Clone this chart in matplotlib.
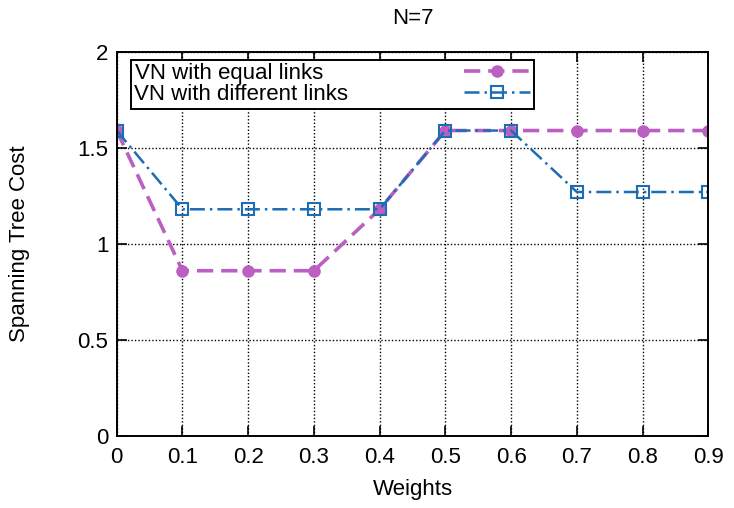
import numpy as np
import matplotlib.pyplot as plt

plt.rcParams['font.family'] = ['Liberation Sans', 'DejaVu Sans']

# Data
weights = [0, 0.1, 0.2, 0.3, 0.4, 0.5, 0.6, 0.7, 0.8, 0.9]
equal_links = [1.59, 0.86, 0.86, 0.86, 1.18, 1.59, 1.59, 1.59, 1.59, 1.59]
diff_links = [1.59, 1.18, 1.18, 1.18, 1.18, 1.59, 1.59, 1.27, 1.27, 1.27]
xticks = [0, 0.1, 0.2, 0.3, 0.4, 0.5, 0.6, 0.7, 0.8, 0.9]
yticks = [0, 0.5, 1, 1.5, 2]

purple = '#bb5fc2'
blue = '#1c6db3'
fs = 16

fig = plt.figure(figsize=(7.34, 5.08), dpi=100)
ax = fig.add_axes([0.159, 0.142, 0.806, 0.756])

ax.plot(weights, equal_links, color=purple, lw=2.6, dashes=(4.5, 2.2),
        marker='o', markersize=8, markerfacecolor=purple, markeredgecolor=purple,
        label='VN with equal links    ')
ax.plot(weights, diff_links, color=blue, lw=1.8, dashes=(6, 2, 1, 2),
        marker='s', markersize=9, markerfacecolor='none', markeredgecolor=blue,
        markeredgewidth=1.5, label='VN with different links')

ax.set_xlim(0, 0.9)
ax.set_ylim(0, 2)
ax.set_xticks(xticks)
ax.set_xticklabels(['0', '0.1', '0.2', '0.3', '0.4', '0.5', '0.6', '0.7', '0.8', '0.9'])
ax.set_yticks(yticks)
ax.set_yticklabels(['0', '0.5', '1', '1.5', '2'])
ax.tick_params(direction='in', top=True, right=True, length=7, width=1.2,
               labelsize=fs)
ax.tick_params(axis='x', pad=8)
ax.tick_params(axis='y', pad=6)
ax.grid(True, color='black', linestyle=(0, (1, 1.5)), linewidth=1.0)
for s in ax.spines.values():
    s.set_linewidth(1.4)

ax.set_title('N=7', fontsize=fs, pad=20)
ax.set_xlabel('Weights', fontsize=fs)
ax.set_ylabel('Spanning Tree Cost', fontsize=fs)
ax.xaxis.set_label_coords(0.5, -0.112)
ax.yaxis.set_label_coords(-0.147, 0.5)

leg = ax.legend(loc='upper left', bbox_to_anchor=(0.024, 0.979), markerfirst=False,
                numpoints=1, handlelength=3.0, handletextpad=5.2, fontsize=fs,
                frameon=True, fancybox=False, framealpha=1, edgecolor='black',
                borderpad=0.15, labelspacing=0.0, borderaxespad=0)
leg.get_frame().set_linewidth(1.4)

fig.savefig('out.png', dpi=100)
